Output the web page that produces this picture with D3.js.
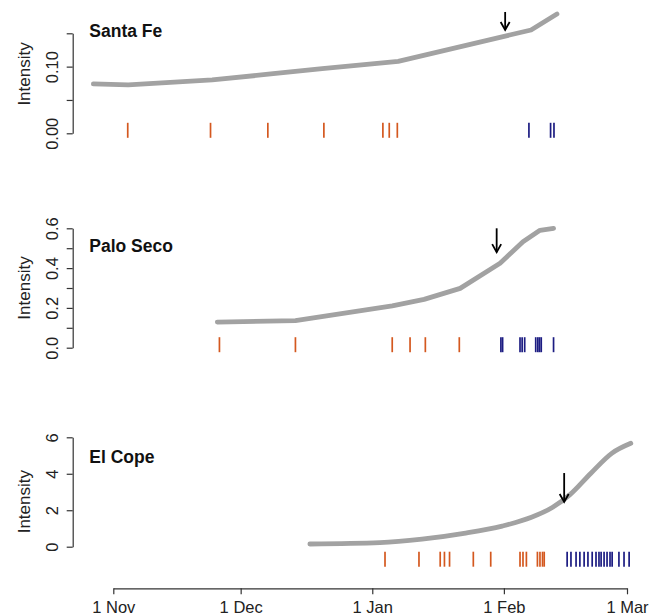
<!DOCTYPE html>
<html>
<head>
<meta charset="utf-8">
<script src="https://cdn.jsdelivr.net/npm/d3@7"></script>
<style>
body { margin: 0; background: #fff; }
svg { display: block; font-family: "Liberation Sans", Arial, Helvetica, sans-serif; }
</style>
</head>
<body>
<div id="chart"></div>
<script>
// days are counted from 1 Nov 2007
const seasonStart = Date.UTC(2007, 10, 1);
const monthTicks = ["2007-11-01", "2007-12-01", "2008-01-01", "2008-02-01", "2008-03-01"];

const siteNames = ["Santa Fe", "Palo Seco", "El Cope"];

// Santa Fe
const santaFeDays = [-4.7, 3.5, 23.3, 37.1, 49.2, 67.1, 98.4, 104.5];
const santaFeIntensity = [0.074, 0.0725, 0.080, 0.089, 0.097, 0.108, 0.155, 0.179];
const santaFeEarly = [3.4, 22.9, 36.4, 49.6, 63.5, 65.0, 66.9];
const santaFeLate = [97.9, 103.0, 103.8];
const santaFeTicks = [0, 0.05, 0.10, 0.15];
const santaFeTickLabels = ["0.00", "", "0.10", ""];

// Palo Seco
const paloSecoDays = [24.5, 42.9, 65.7, 73.2, 81.7, 91.1, 96.5, 100.5, 103.7];
const paloSecoIntensity = [0.129, 0.136, 0.21, 0.243, 0.298, 0.424, 0.533, 0.59, 0.60];
const paloSecoEarly = [25.0, 42.9, 65.7, 69.9, 73.5, 81.5];
const paloSecoLate = [91.3, 91.7, 95.8, 96.3, 96.9, 99.5, 100.0, 100.4, 100.8, 103.7];
const paloSecoTicks = [0, 0.1, 0.2, 0.3, 0.4, 0.5, 0.6];
const paloSecoTickLabels = ["0.0", "", "0.2", "", "0.4", "", "0.6"];

// El Cope
const elCopeDays = [46.3, 62.8, 72.7, 82.6, 91.6, 98.5, 103.5, 107.5, 112.5, 117.4, 121.9];
const elCopeIntensity = [0.148, 0.22, 0.41, 0.73, 1.13, 1.61, 2.16, 2.84, 4.03, 5.12, 5.67];
const elCopeEarly = [64.0, 72.0, 77.0, 78.0, 79.2, 84.8, 88.9, 95.8, 96.5, 97.3, 99.9, 100.5, 101.1, 101.5];
const elCopeLate = [106.9, 107.8, 109.0, 109.9, 110.9, 111.8, 112.8, 113.7, 114.4, 114.9, 115.6, 116.3, 117.0, 117.5, 119.1, 120.3, 121.5];
const elCopeTicks = [0, 2, 4, 6];
const elCopeTickLabels = ["0", "2", "4", "6"];

// arrows (day, tip value, tail value), rug level and y-label centre per site
const arrowDays = [92.3, 90.3, 106.2];
const arrowTip = [0.155, 0.48, 2.45];
const arrowTail = [0.182, 0.60, 4.04];
const rugLevel = [0, 0, -0.85];
const labelLevel = [0.089, 0.30, 2.47];

const width = 662;
const height = 615;
const orange = "#d4581f";
const navy = "#1c1c82";

const sites = [
    {days: santaFeDays, values: santaFeIntensity, early: santaFeEarly, late: santaFeLate,
     ticks: santaFeTicks, tickLabels: santaFeTickLabels, top: 33.3, bottom: 133.3, titleY: 37.3,
     curve: d3.curveLinear},
    {days: paloSecoDays, values: paloSecoIntensity, early: paloSecoEarly, late: paloSecoLate,
     ticks: paloSecoTicks, tickLabels: paloSecoTickLabels, top: 228.3, bottom: 347.7, titleY: 251.7,
     curve: d3.curveLinear},
    {days: elCopeDays, values: elCopeIntensity, early: elCopeEarly, late: elCopeLate,
     ticks: elCopeTicks, tickLabels: elCopeTickLabels, top: 437.3, bottom: 546.7, titleY: 463.3,
     curve: d3.curveMonotoneX}
];

const toDate = d => new Date(seasonStart + d * 864e5);
const parseDay = d3.utcParse("%Y-%m-%d");

const svg = d3.select("#chart").append("svg")
    .attr("width", width)
    .attr("height", height);

// shared x scale
const x = d3.scaleUtc()
    .domain([parseDay(monthTicks[0]), parseDay(monthTicks[monthTicks.length - 1])])
    .range([113.3, 627]);

const axisX = 72.7;

sites.forEach((s, i) => {
    const y = d3.scaleLinear()
        .domain([0, d3.max(s.ticks)])
        .range([s.bottom, s.top]);
    const g = svg.append("g");

    // y axis
    const ay = g.append("g")
        .attr("transform", `translate(${axisX},0)`)
        .call(d3.axisLeft(y).tickValues(s.ticks).tickSize(6).tickSizeOuter(0)
            .tickFormat((d, k) => s.tickLabels[k]));
    ay.select(".domain").attr("stroke", "#333").attr("stroke-width", 1.2);
    ay.selectAll(".tick line").attr("stroke", "#333").attr("stroke-width", 1.2);
    ay.selectAll(".tick text")
        .attr("transform", "rotate(-90)")
        .attr("x", 0).attr("y", -14.4).attr("dy", 0)
        .attr("text-anchor", "middle")
        .attr("font-size", 16.5)
        .attr("fill", "#222");

    g.append("text")
        .attr("transform", `translate(30,${y(labelLevel[i])}) rotate(-90)`)
        .attr("text-anchor", "middle")
        .attr("font-size", 17)
        .attr("fill", "#222")
        .text("Intensity");

    g.append("text")
        .attr("x", 89.3).attr("y", s.titleY)
        .attr("font-size", 17.5)
        .attr("font-weight", "bold")
        .attr("fill", "#111")
        .text(siteNames[i]);

    // intensity curve
    const line = d3.line()
        .x(d => x(toDate(d[0])))
        .y(d => y(d[1]))
        .curve(s.curve);
    g.append("path")
        .datum(d3.zip(s.days, s.values))
        .attr("fill", "none")
        .attr("stroke", "#a2a2a2")
        .attr("stroke-width", 4.8)
        .attr("stroke-linecap", "round")
        .attr("stroke-linejoin", "round")
        .attr("d", line);

    // rug marks
    const ry = y(rugLevel[i]);
    const rug = (data, colour) => g.append("g").selectAll("line")
        .data(data)
        .join("line")
        .attr("x1", d => x(toDate(d))).attr("x2", d => x(toDate(d)))
        .attr("y1", ry - 10.5).attr("y2", ry + 4.5)
        .attr("stroke", colour)
        .attr("stroke-width", 1.7);
    rug(s.early, orange);
    rug(s.late, navy);

    // arrow
    const ax = x(toDate(arrowDays[i]));
    const tipY = y(arrowTip[i]);
    g.append("line")
        .attr("x1", ax).attr("x2", ax)
        .attr("y1", y(arrowTail[i])).attr("y2", tipY)
        .attr("stroke", "#000").attr("stroke-width", 1.8);
    g.append("path")
        .attr("d", `M${ax - 4.5},${tipY - 8}L${ax},${tipY}L${ax + 4.5},${tipY - 8}`)
        .attr("fill", "none")
        .attr("stroke", "#000").attr("stroke-width", 1.8);
});

// x axis at the bottom
const ax = svg.append("g")
    .attr("transform", "translate(0,588.3)")
    .call(d3.axisBottom(x).tickValues(monthTicks.map(parseDay))
        .tickFormat(d3.utcFormat("%-d %b")).tickSize(6).tickSizeOuter(0));
ax.select(".domain").attr("stroke", "#333").attr("stroke-width", 1.2);
ax.selectAll(".tick line").attr("stroke", "#333").attr("stroke-width", 1.2);
ax.selectAll(".tick text")
    .attr("y", 25).attr("dy", 0)
    .attr("font-size", 16.5)
    .attr("fill", "#222");
</script>
</body>
</html>
